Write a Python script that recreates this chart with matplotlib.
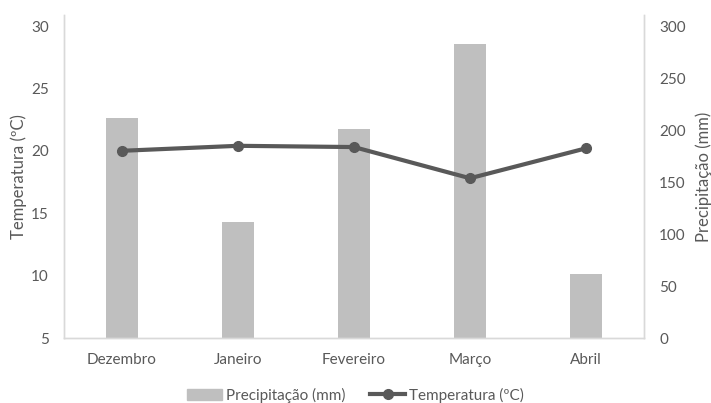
import matplotlib
matplotlib.use("Agg")
import matplotlib.pyplot as plt
from matplotlib.lines import Line2D
from matplotlib.patches import Patch

months = ["Dezembro", "Janeiro", "Fevereiro", "Março", "Abril"]
precipitacao = [212, 112, 201, 283, 62]
temperatura = [20.0, 20.4, 20.3, 17.8, 20.2]
temp_ticks = [5, 10, 15, 20, 25, 30]
prec_ticks = [0, 50, 100, 150, 200, 250, 300]

text_c = "#595959"
spine_c = "#d9d9d9"
bar_c = "#bfbfbf"
line_c = "#595959"

plt.rcParams["font.family"] = ["Lato", "DejaVu Sans"]

fig = plt.figure(figsize=(7.11, 4.03), dpi=100)
ax = fig.add_axes([64 / 711, 1 - 338 / 403, 580 / 711, 323 / 403])
ax2 = ax.twinx()

x = list(range(len(months)))
ax2.bar(x, precipitacao, width=0.27, color=bar_c, zorder=1)
ax.plot(x, temperatura, color=line_c, lw=3, marker="o", ms=7, zorder=3)

# draw the temperature line above the bars
ax.set_zorder(ax2.get_zorder() + 1)
ax.patch.set_visible(False)

ax.set_xlim(-0.5, len(months) - 0.5)
top_frac = (338 - 15) / (338 - 26)
ax.set_ylim(5, 5 + 25 * top_frac)
ax2.set_ylim(0, 300 * top_frac)
ax.set_yticks(temp_ticks)
ax2.set_yticks(prec_ticks)
ax.set_xticks(x)
ax.set_xticklabels(months)

for a in (ax, ax2):
    a.spines["top"].set_visible(False)
    for s in ("left", "right", "bottom"):
        a.spines[s].set_color(spine_c)
        a.spines[s].set_linewidth(1)
    a.tick_params(colors=text_c, labelsize=11, length=0, pad=11)

ax.set_ylabel("Temperatura (ºC)", color=text_c, fontsize=12, labelpad=3)
ax2.set_ylabel("Precipitação (mm)", color=text_c, fontsize=12, labelpad=7)

handles = [
    Patch(color=bar_c, label="Precipitação (mm)"),
    Line2D([0], [0], color=line_c, lw=3, marker="o", ms=7, label="Temperatura (ºC)"),
]
fig.legend(handles=handles, loc="center", bbox_to_anchor=(0.5, 1 - 395 / 403),
           ncol=2, frameon=False, fontsize=11, labelcolor=text_c,
           handlelength=2.3, handletextpad=0.25, columnspacing=1.6)

fig.savefig("out.png", dpi=100, facecolor="white")
